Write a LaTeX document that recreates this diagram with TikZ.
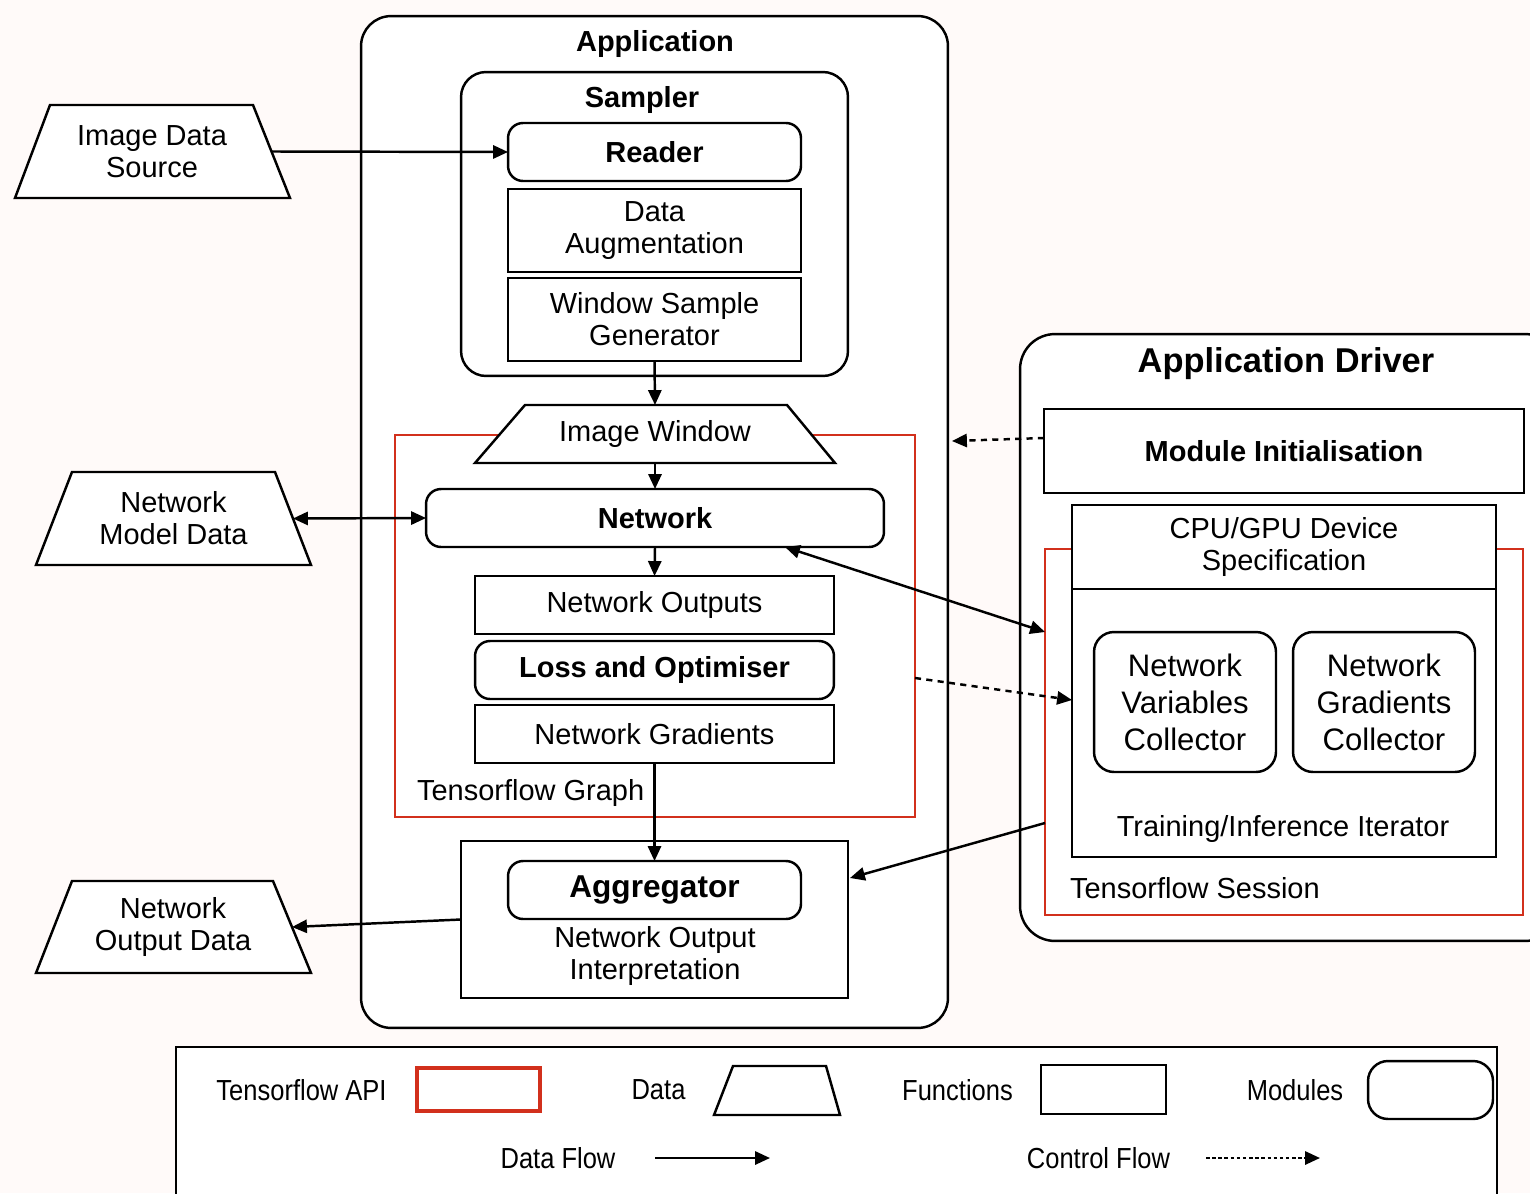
\documentclass[tikz,border=0pt]{standalone}
\usepackage{fontspec}
\setmainfont{Liberation Sans}
\newfontfamily\legfont[FakeStretch=0.88]{Liberation Sans}
\usetikzlibrary{arrows.meta, positioning, calc}
\definecolor{bgpink}{RGB}{255,250,249}
\definecolor{tfred}{RGB}{210,48,28}

\begin{document}
\begin{tikzpicture}[x=0.02cm, y=-0.02cm,
  font=\fontsize{16.5}{18.2}\selectfont,
  every node/.style={inner sep=0pt, outer sep=0pt},
  module/.style={draw, line width=1.4pt, fill=white, rounded corners=0.3cm},
  func/.style={draw, line width=1.4pt, fill=white},
  tfapi/.style={draw=tfred, line width=1.1pt},
  datafill/.style={draw, line width=1.4pt, fill=white, line join=miter},
  ttl/.style={font=\fontsize{16.5}{18.2}\selectfont\bfseries},
  flow/.style={line width=1.4pt, -{Triangle[length=8.5pt,width=7.5pt]}},
  biflow/.style={line width=1.4pt, {Triangle[length=8.5pt,width=7.5pt]}-{Triangle[length=8.5pt,width=7.5pt]}},
  ctrl/.style={flow, dash pattern=on 3.5pt off 3pt},
  legtxt/.style={font=\fontsize{16.5}{18.2}\legfont},
]
% page
\fill[bgpink] (0,0) rectangle (1530,1193);
\useasboundingbox (0,0) rectangle (1530,1193);

% Application
\node[module, rounded corners=0.6cm, minimum width=11.74cm, minimum height=20.24cm] (app) at (654.5,522) {};
\node[ttl] (applbl) at (655,44) {Application};
\node[module, rounded corners=0.5cm, minimum width=7.74cm, minimum height=6.08cm] (sampler) at (654.5,224) {};
\node[ttl] (samplerlbl) at (642,100) {Sampler};
\node[module, ttl, minimum width=5.86cm, minimum height=1.16cm] (reader) at (654.5,152) {Reader};
\node[func, align=center, minimum width=5.86cm, minimum height=1.66cm] (augment) at (654.5,230.5) {Data\\Augmentation};
\node[func, align=center, minimum width=5.86cm, minimum height=1.66cm] (winsample) at (654.5,319.5) {Window Sample\\Generator};

% Tensorflow graph
\node[tfapi, minimum width=10.4cm, minimum height=7.64cm] (tfgraph) at (655,626) {};
\node[anchor=west] (tfgraphlbl) at (417,793) {Tensorflow Graph};
\filldraw[datafill] (475,463) -- (525,405) -- (787,405) -- (835,463) -- cycle;
\node[minimum width=6.22cm, minimum height=1.16cm] (imgwin) at (655,434) {Image Window};
\node[module, ttl, minimum width=9.16cm, minimum height=1.16cm] (network) at (655,518) {Network};
\node[func, minimum width=7.18cm, minimum height=1.16cm] (netout) at (654.5,605) {Network Outputs};
\node[module, ttl, minimum width=7.18cm, minimum height=1.16cm] (loss) at (654.5,670) {Loss and Optimiser};
\node[func, minimum width=7.18cm, minimum height=1.16cm] (netgrad) at (654.5,734) {Network Gradients};

% Output
\node[func, minimum width=7.74cm, minimum height=3.14cm] (outbox) at (654.5,919.5) {};
\node[module, font=\fontsize{18}{20}\selectfont\bfseries, minimum width=5.86cm, minimum height=1.16cm] (aggreg) at (654.5,890) {Aggregator};
\node[align=center] (interp) at (655,956) {Network Output\\Interpretation};

% Data sources
\filldraw[datafill] (15,198) -- (50,105) -- (253,105) -- (290,198) -- cycle;
\node[align=center, minimum width=4.78cm, minimum height=1.86cm] (imgsrc) at (152,151.5) {Image Data\\Source};
\filldraw[datafill] (36,565) -- (72,472) -- (275,472) -- (311,565) -- cycle;
\node[align=center, minimum width=4.78cm, minimum height=1.86cm] (modeldata) at (173.5,518.5) {Network\\Model Data};
\filldraw[datafill] (36,973) -- (72,881) -- (273,881) -- (311,973) -- cycle;
\node[align=center, minimum width=4.76cm, minimum height=1.84cm] (outdata) at (173,927) {Network\\Output Data};

% Application driver
\node[module, rounded corners=0.7cm, minimum width=10.8cm, minimum height=12.14cm] (driver) at (1290,637.5) {};
\node[font=\fontsize{19.6}{22}\selectfont\bfseries] (drvlbl) at (1286,364) {Application Driver};
\node[func, ttl, minimum width=9.6cm, minimum height=1.68cm] (modinit) at (1284,451) {Module Initialisation};
\node[tfapi, minimum width=9.56cm, minimum height=7.32cm] (tfsession) at (1284,732) {};
\node[anchor=west] (sesslbl) at (1070,888) {Tensorflow Session};
\node[func, minimum width=8.48cm, minimum height=5.36cm] (iterator) at (1284,723) {};
\node (itlbl) at (1283,829) {Training/Inference Iterator};
\node[func, align=center, minimum width=8.48cm, minimum height=1.68cm] (cpugpu) at (1284,547) {CPU/GPU Device\\Specification};
\node[module, rounded corners=0.4cm, align=center, font=\fontsize{17.7}{21}\selectfont, minimum width=3.64cm, minimum height=2.8cm] (varcoll) at (1185,702) {Network\\Variables\\Collector};
\node[module, rounded corners=0.4cm, align=center, font=\fontsize{17.7}{21}\selectfont, minimum width=3.64cm, minimum height=2.8cm] (gradcoll) at (1384,702) {Network\\Gradients\\Collector};

% Data flow
\draw[flow] (imgsrc.east) -- (reader.west);
\draw[flow] (winsample.south) -- (imgwin.north);
\draw[flow] (imgwin.south) -- (network.north);
\draw[biflow] (modeldata.east) -- (network.west);
\draw[flow] (network.south) -- (netout.north);
\draw[flow] (netgrad.south) -- (aggreg.north);
\draw[flow] (outbox.west) -- (outdata.east);
\draw[biflow] ([xshift=2.6cm]network.south) -- ([yshift=2cm]tfsession.west);
\draw[flow] ([yshift=-1.82cm]tfsession.west) -- ([xshift=0.04cm,yshift=0.83cm]outbox.east);
% Control flow
\draw[ctrl] ([yshift=0.26cm]modinit.west) -- ([xshift=0.08cm,yshift=1.62cm]app.east);
\draw[ctrl] ([yshift=-1.04cm]tfgraph.east) -- ([yshift=0.46cm]iterator.west);

% Legend
\node[draw, line width=1.4pt, fill=white, minimum width=26.42cm, minimum height=3.46cm] (legend) at (836.5,1133.5) {};
\node[legtxt] (legapi) at (301.5,1090) {Tensorflow API};
\node[draw=tfred, line width=2.4pt, minimum width=2.46cm, minimum height=0.86cm] (legapibox) at (478.5,1089.5) {};
\node[legtxt] (legdata) at (658.5,1090) {Data};
\filldraw[datafill] (714,1115) -- (733,1066) -- (826,1066) -- (840,1115) -- cycle;
\node[legtxt] (legfunc) at (957.5,1090) {Functions};
\node[func, minimum width=2.5cm, minimum height=0.98cm] (legfuncbox) at (1103.5,1089.5) {};
\node[legtxt] (legmod) at (1295,1090) {Modules};
\node[module, rounded corners=0.4cm, minimum width=2.5cm, minimum height=1.16cm] (legmodbox) at (1430.5,1090) {};
\node[legtxt] (legdflow) at (558,1158) {Data Flow};
\coordinate (dfa) at (655,1158);
\coordinate (dfb) at (770,1158);
\draw[flow] (dfa) -- (dfb);
\node[legtxt] (legcflow) at (1098.5,1158) {Control Flow};
\coordinate (cfa) at (1206,1158);
\coordinate (cfb) at (1320,1158);
\draw[flow, dash pattern=on 2pt off 1.5pt] (cfa) -- (cfb);
\end{tikzpicture}
\end{document}
